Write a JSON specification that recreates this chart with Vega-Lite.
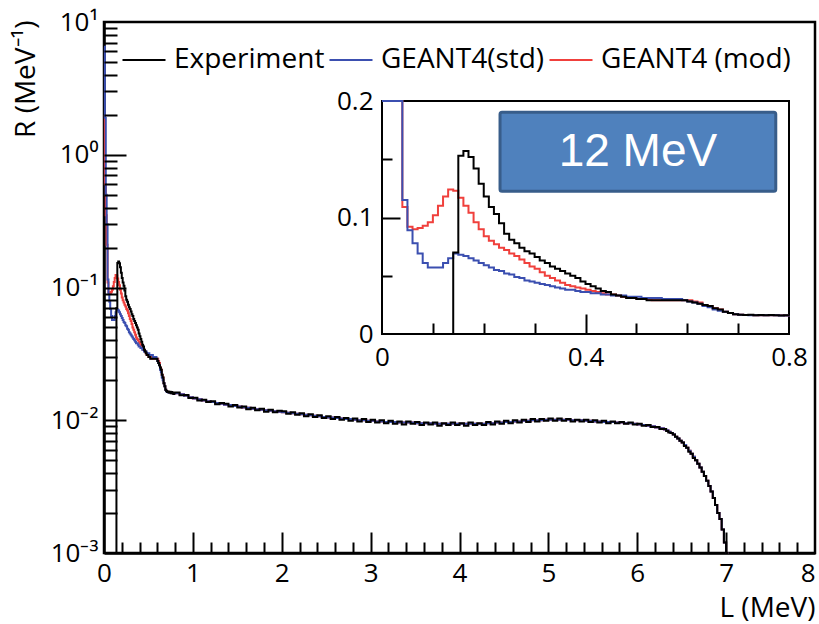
{
  "$schema": "https://vega.github.io/schema/vega-lite/v6.json",
  "width": 711,
  "height": 531,
  "autosize": {"type": "none"},
  "padding": {"left": 104, "top": 22, "right": 4, "bottom": 71},
  "background": "white",
  "config": {
    "view": {"stroke": "black", "strokeWidth": 2.5},
    "font": "Open Sans",
    "axis": {
      "labelFont": "Open Sans", "titleFont": "Open Sans", "labelColor": "black", "titleColor": "black",
      "tickColor": "black", "domainColor": "black", "grid": false, "titleFontWeight": "normal",
      "labelFontSize": 26, "titleFontSize": 28, "tickWidth": 2, "domainWidth": 2.5, "labelOverlap": false, "labelBound": false
    }
  },
  "data": {"values": [
    {"L":0.00,"exp":0,"std":6.5,"mod":2.0},
    {"L":0.01,"exp":0,"std":1.9,"mod":0.6},
    {"L":0.02,"exp":0,"std":0.5,"mod":0.35},
    {"L":0.03,"exp":0,"std":0.3,"mod":0.21},
    {"L":0.04,"exp":0,"std":0.115,"mod":0.109},
    {"L":0.05,"exp":0,"std":0.089,"mod":0.092},
    {"L":0.06,"exp":0,"std":0.078,"mod":0.090},
    {"L":0.07,"exp":0,"std":0.069,"mod":0.091},
    {"L":0.08,"exp":0,"std":0.061,"mod":0.093},
    {"L":0.09,"exp":0,"std":0.057,"mod":0.096},
    {"L":0.10,"exp":0,"std":0.057,"mod":0.102},
    {"L":0.11,"exp":0,"std":0.057,"mod":0.110},
    {"L":0.12,"exp":0,"std":0.061,"mod":0.118},
    {"L":0.13,"exp":0,"std":0.065,"mod":0.124},
    {"L":0.14,"exp":0.070,"std":0.069,"mod":0.123},
    {"L":0.15,"exp":0.153,"std":0.068,"mod":0.117},
    {"L":0.16,"exp":0.157,"std":0.067,"mod":0.110},
    {"L":0.17,"exp":0.152,"std":0.065,"mod":0.104},
    {"L":0.18,"exp":0.142,"std":0.063,"mod":0.096},
    {"L":0.19,"exp":0.129,"std":0.061,"mod":0.090},
    {"L":0.20,"exp":0.118,"std":0.059,"mod":0.084},
    {"L":0.21,"exp":0.109,"std":0.057,"mod":0.080},
    {"L":0.22,"exp":0.103,"std":0.055,"mod":0.077},
    {"L":0.23,"exp":0.095,"std":0.054,"mod":0.074},
    {"L":0.24,"exp":0.086,"std":0.052,"mod":0.072},
    {"L":0.25,"exp":0.081,"std":0.051,"mod":0.069},
    {"L":0.26,"exp":0.078,"std":0.049,"mod":0.067},
    {"L":0.27,"exp":0.074,"std":0.048,"mod":0.064},
    {"L":0.28,"exp":0.071,"std":0.046,"mod":0.061},
    {"L":0.29,"exp":0.069,"std":0.045,"mod":0.058},
    {"L":0.30,"exp":0.066,"std":0.044,"mod":0.056},
    {"L":0.31,"exp":0.063,"std":0.043,"mod":0.053},
    {"L":0.32,"exp":0.061,"std":0.042,"mod":0.050},
    {"L":0.33,"exp":0.058,"std":0.041,"mod":0.048},
    {"L":0.34,"exp":0.056,"std":0.040,"mod":0.046},
    {"L":0.35,"exp":0.054,"std":0.039,"mod":0.044},
    {"L":0.36,"exp":0.052,"std":0.038,"mod":0.042},
    {"L":0.37,"exp":0.050,"std":0.038,"mod":0.041},
    {"L":0.38,"exp":0.048,"std":0.037,"mod":0.040},
    {"L":0.39,"exp":0.045,"std":0.036,"mod":0.039},
    {"L":0.40,"exp":0.043,"std":0.036,"mod":0.038},
    {"L":0.41,"exp":0.041,"std":0.035,"mod":0.037},
    {"L":0.42,"exp":0.039,"std":0.035,"mod":0.036},
    {"L":0.43,"exp":0.037,"std":0.034,"mod":0.035},
    {"L":0.44,"exp":0.036,"std":0.034,"mod":0.034},
    {"L":0.45,"exp":0.034,"std":0.033,"mod":0.034},
    {"L":0.46,"exp":0.033,"std":0.033,"mod":0.033},
    {"L":0.47,"exp":0.032,"std":0.033,"mod":0.032},
    {"L":0.48,"exp":0.031,"std":0.032,"mod":0.031},
    {"L":0.49,"exp":0.031,"std":0.032,"mod":0.031},
    {"L":0.50,"exp":0.030,"std":0.032,"mod":0.030},
    {"L":0.51,"exp":0.030,"std":0.031,"mod":0.030},
    {"L":0.52,"exp":0.029,"std":0.031,"mod":0.030},
    {"L":0.53,"exp":0.029,"std":0.031,"mod":0.029},
    {"L":0.54,"exp":0.029,"std":0.031,"mod":0.029},
    {"L":0.55,"exp":0.029,"std":0.030,"mod":0.029},
    {"L":0.56,"exp":0.029,"std":0.030,"mod":0.029},
    {"L":0.57,"exp":0.029,"std":0.030,"mod":0.029},
    {"L":0.58,"exp":0.029,"std":0.030,"mod":0.029},
    {"L":0.59,"exp":0.029,"std":0.029,"mod":0.029},
    {"L":0.60,"exp":0.028,"std":0.028,"mod":0.029},
    {"L":0.61,"exp":0.027,"std":0.027,"mod":0.028},
    {"L":0.62,"exp":0.026,"std":0.026,"mod":0.027},
    {"L":0.63,"exp":0.025,"std":0.024,"mod":0.025},
    {"L":0.64,"exp":0.024,"std":0.023,"mod":0.024},
    {"L":0.65,"exp":0.022,"std":0.021,"mod":0.022},
    {"L":0.66,"exp":0.021,"std":0.020,"mod":0.021},
    {"L":0.67,"exp":0.019,"std":0.019,"mod":0.019},
    {"L":0.68,"exp":0.018,"std":0.018,"mod":0.018},
    {"L":0.69,"exp":0.017,"std":0.017,"mod":0.017},
    {"L":0.70,"exp":0.0166,"std":0.0165,"mod":0.0166},
    {"L":0.71,"exp":0.0163,"std":0.0163,"mod":0.0164},
    {"L":0.72,"exp":0.0165,"std":0.0162,"mod":0.0163},
    {"L":0.73,"exp":0.0162,"std":0.0162,"mod":0.0162},
    {"L":0.74,"exp":0.0164,"std":0.0161,"mod":0.0162},
    {"L":0.75,"exp":0.0160,"std":0.0161,"mod":0.0161},
    {"L":0.76,"exp":0.0163,"std":0.0160,"mod":0.0161},
    {"L":0.77,"exp":0.0161,"std":0.0160,"mod":0.0160},
    {"L":0.78,"exp":0.0158,"std":0.0159,"mod":0.0160},
    {"L":0.79,"exp":0.0161,"std":0.0159,"mod":0.0159},
    {"L":0.80,"exp":0.0162,"std":0.0160,"mod":0.0160},
    {"L":0.85,"exp":0.0154,"std":0.0157,"mod":0.0157},
    {"L":0.90,"exp":0.0155,"std":0.0153,"mod":0.0153},
    {"L":0.95,"exp":0.0147,"std":0.0149,"mod":0.0149},
    {"L":1.00,"exp":0.0148,"std":0.0146,"mod":0.0146},
    {"L":1.05,"exp":0.0141,"std":0.0144,"mod":0.0144},
    {"L":1.10,"exp":0.0143,"std":0.0141,"mod":0.0141},
    {"L":1.15,"exp":0.0137,"std":0.0139,"mod":0.0139},
    {"L":1.20,"exp":0.0139,"std":0.0137,"mod":0.0137},
    {"L":1.25,"exp":0.0132,"std":0.0135,"mod":0.0135},
    {"L":1.30,"exp":0.0135,"std":0.0133,"mod":0.0133},
    {"L":1.35,"exp":0.0133,"std":0.0131,"mod":0.0131},
    {"L":1.40,"exp":0.0127,"std":0.0130,"mod":0.0130},
    {"L":1.45,"exp":0.0130,"std":0.0128,"mod":0.0128},
    {"L":1.50,"exp":0.0125,"std":0.0127,"mod":0.0127},
    {"L":1.55,"exp":0.0127,"std":0.0125,"mod":0.0125},
    {"L":1.60,"exp":0.0121,"std":0.0124,"mod":0.0124},
    {"L":1.65,"exp":0.0124,"std":0.0122,"mod":0.0122},
    {"L":1.70,"exp":0.0119,"std":0.0121,"mod":0.0121},
    {"L":1.75,"exp":0.0122,"std":0.0120,"mod":0.0120},
    {"L":1.80,"exp":0.0116,"std":0.0119,"mod":0.0119},
    {"L":1.85,"exp":0.0120,"std":0.0118,"mod":0.0118},
    {"L":1.90,"exp":0.0115,"std":0.0117,"mod":0.0117},
    {"L":1.95,"exp":0.0118,"std":0.0116,"mod":0.0116},
    {"L":2.00,"exp":0.0117,"std":0.0115,"mod":0.0115},
    {"L":2.05,"exp":0.0112,"std":0.0114,"mod":0.0114},
    {"L":2.10,"exp":0.0115,"std":0.0113,"mod":0.0113},
    {"L":2.15,"exp":0.0110,"std":0.0112,"mod":0.0112},
    {"L":2.20,"exp":0.0113,"std":0.0111,"mod":0.0111},
    {"L":2.25,"exp":0.0107,"std":0.0110,"mod":0.0110},
    {"L":2.30,"exp":0.0111,"std":0.0109,"mod":0.0109},
    {"L":2.35,"exp":0.0106,"std":0.0108,"mod":0.0108},
    {"L":2.40,"exp":0.0109,"std":0.0107,"mod":0.0107},
    {"L":2.45,"exp":0.0104,"std":0.0106,"mod":0.0106},
    {"L":2.50,"exp":0.0107,"std":0.0105,"mod":0.0105},
    {"L":2.55,"exp":0.0102,"std":0.0105,"mod":0.0105},
    {"L":2.60,"exp":0.0106,"std":0.0104,"mod":0.0104},
    {"L":2.65,"exp":0.0101,"std":0.0103,"mod":0.0103},
    {"L":2.70,"exp":0.0104,"std":0.0102,"mod":0.0102},
    {"L":2.75,"exp":0.0099,"std":0.0102,"mod":0.0102},
    {"L":2.80,"exp":0.0103,"std":0.0101,"mod":0.0101},
    {"L":2.85,"exp":0.0098,"std":0.0100,"mod":0.0100},
    {"L":2.90,"exp":0.0102,"std":0.0100,"mod":0.0100},
    {"L":2.95,"exp":0.0097,"std":0.0099,"mod":0.0099},
    {"L":3.00,"exp":0.0101,"std":0.0099,"mod":0.0099},
    {"L":3.05,"exp":0.0096,"std":0.0098,"mod":0.0098},
    {"L":3.10,"exp":0.0100,"std":0.0098,"mod":0.0098},
    {"L":3.15,"exp":0.0095,"std":0.0097,"mod":0.0097},
    {"L":3.20,"exp":0.0099,"std":0.0097,"mod":0.0097},
    {"L":3.25,"exp":0.0094,"std":0.0097,"mod":0.0097},
    {"L":3.30,"exp":0.0098,"std":0.0096,"mod":0.0096},
    {"L":3.35,"exp":0.0093,"std":0.0096,"mod":0.0096},
    {"L":3.40,"exp":0.0098,"std":0.0096,"mod":0.0096},
    {"L":3.45,"exp":0.0094,"std":0.0096,"mod":0.0096},
    {"L":3.50,"exp":0.0097,"std":0.0095,"mod":0.0095},
    {"L":3.55,"exp":0.0092,"std":0.0095,"mod":0.0095},
    {"L":3.60,"exp":0.0096,"std":0.0095,"mod":0.0095},
    {"L":3.65,"exp":0.0093,"std":0.0095,"mod":0.0095},
    {"L":3.70,"exp":0.0096,"std":0.0094,"mod":0.0094},
    {"L":3.75,"exp":0.0091,"std":0.0094,"mod":0.0094},
    {"L":3.80,"exp":0.0095,"std":0.0094,"mod":0.0094},
    {"L":3.85,"exp":0.0092,"std":0.0094,"mod":0.0094},
    {"L":3.90,"exp":0.0096,"std":0.0094,"mod":0.0094},
    {"L":3.95,"exp":0.0092,"std":0.0094,"mod":0.0094},
    {"L":4.00,"exp":0.0095,"std":0.0094,"mod":0.0094},
    {"L":4.05,"exp":0.0091,"std":0.0094,"mod":0.0094},
    {"L":4.10,"exp":0.0096,"std":0.0094,"mod":0.0094},
    {"L":4.15,"exp":0.0092,"std":0.0094,"mod":0.0094},
    {"L":4.20,"exp":0.0095,"std":0.0094,"mod":0.0094},
    {"L":4.25,"exp":0.0092,"std":0.0094,"mod":0.0094},
    {"L":4.30,"exp":0.0097,"std":0.0095,"mod":0.0095},
    {"L":4.35,"exp":0.0093,"std":0.0095,"mod":0.0095},
    {"L":4.40,"exp":0.0098,"std":0.0096,"mod":0.0096},
    {"L":4.45,"exp":0.0094,"std":0.0096,"mod":0.0096},
    {"L":4.50,"exp":0.0099,"std":0.0097,"mod":0.0097},
    {"L":4.55,"exp":0.0095,"std":0.0097,"mod":0.0097},
    {"L":4.60,"exp":0.0100,"std":0.0098,"mod":0.0098},
    {"L":4.65,"exp":0.0096,"std":0.0098,"mod":0.0098},
    {"L":4.70,"exp":0.0101,"std":0.0099,"mod":0.0099},
    {"L":4.75,"exp":0.0097,"std":0.0099,"mod":0.0099},
    {"L":4.80,"exp":0.0102,"std":0.0100,"mod":0.0100},
    {"L":4.85,"exp":0.0098,"std":0.0100,"mod":0.0100},
    {"L":4.90,"exp":0.0102,"std":0.0100,"mod":0.0100},
    {"L":4.95,"exp":0.0099,"std":0.0101,"mod":0.0101},
    {"L":5.00,"exp":0.0103,"std":0.0101,"mod":0.0101},
    {"L":5.05,"exp":0.0099,"std":0.0101,"mod":0.0101},
    {"L":5.10,"exp":0.0103,"std":0.0101,"mod":0.0101},
    {"L":5.15,"exp":0.0099,"std":0.0101,"mod":0.0101},
    {"L":5.20,"exp":0.0102,"std":0.0101,"mod":0.0101},
    {"L":5.25,"exp":0.0098,"std":0.0100,"mod":0.0100},
    {"L":5.30,"exp":0.0101,"std":0.0100,"mod":0.0100},
    {"L":5.35,"exp":0.0098,"std":0.0100,"mod":0.0100},
    {"L":5.40,"exp":0.0101,"std":0.0099,"mod":0.0099},
    {"L":5.45,"exp":0.0097,"std":0.0099,"mod":0.0099},
    {"L":5.50,"exp":0.0100,"std":0.0098,"mod":0.0098},
    {"L":5.55,"exp":0.0096,"std":0.0098,"mod":0.0098},
    {"L":5.60,"exp":0.0099,"std":0.0097,"mod":0.0097},
    {"L":5.65,"exp":0.0095,"std":0.0097,"mod":0.0097},
    {"L":5.70,"exp":0.0098,"std":0.0097,"mod":0.0097},
    {"L":5.75,"exp":0.0095,"std":0.0096,"mod":0.0096},
    {"L":5.80,"exp":0.0097,"std":0.0096,"mod":0.0096},
    {"L":5.85,"exp":0.0094,"std":0.0095,"mod":0.0095},
    {"L":5.90,"exp":0.0096,"std":0.0095,"mod":0.0095},
    {"L":5.95,"exp":0.0093,"std":0.0094,"mod":0.0094},
    {"L":6.00,"exp":0.0094,"std":0.0093,"mod":0.0093},
    {"L":6.05,"exp":0.0091,"std":0.0092,"mod":0.0092},
    {"L":6.10,"exp":0.0092,"std":0.0091,"mod":0.0091},
    {"L":6.15,"exp":0.0089,"std":0.0090,"mod":0.0090},
    {"L":6.20,"exp":0.0089,"std":0.0088,"mod":0.0088},
    {"L":6.25,"exp":0.0086,"std":0.0087,"mod":0.0087},
    {"L":6.300,"exp":0.0086,"std":0.0085,"mod":0.0085},
    {"L":6.325,"exp":0.0083,"std":0.0084,"mod":0.0084},
    {"L":6.350,"exp":0.0081,"std":0.0082,"mod":0.0082},
    {"L":6.375,"exp":0.0080,"std":0.0080,"mod":0.0080},
    {"L":6.400,"exp":0.0078,"std":0.0078,"mod":0.0078},
    {"L":6.425,"exp":0.0075,"std":0.0075,"mod":0.0075},
    {"L":6.450,"exp":0.0073,"std":0.0073,"mod":0.0073},
    {"L":6.475,"exp":0.0070,"std":0.0070,"mod":0.0070},
    {"L":6.500,"exp":0.0068,"std":0.0068,"mod":0.0068},
    {"L":6.525,"exp":0.0064,"std":0.0065,"mod":0.0065},
    {"L":6.550,"exp":0.0062,"std":0.0062,"mod":0.0062},
    {"L":6.575,"exp":0.0058,"std":0.0059,"mod":0.0059},
    {"L":6.600,"exp":0.0056,"std":0.0056,"mod":0.0056},
    {"L":6.625,"exp":0.0052,"std":0.0053,"mod":0.0053},
    {"L":6.650,"exp":0.0050,"std":0.0050,"mod":0.0050},
    {"L":6.675,"exp":0.0047,"std":0.0047,"mod":0.0047},
    {"L":6.700,"exp":0.0044,"std":0.0044,"mod":0.0044},
    {"L":6.725,"exp":0.0041,"std":0.0041,"mod":0.0041},
    {"L":6.750,"exp":0.0038,"std":0.0038,"mod":0.0038},
    {"L":6.775,"exp":0.0035,"std":0.0035,"mod":0.0035},
    {"L":6.800,"exp":0.0032,"std":0.0032,"mod":0.0032},
    {"L":6.825,"exp":0.0029,"std":0.0029,"mod":0.0029},
    {"L":6.850,"exp":0.0026,"std":0.0026,"mod":0.0026},
    {"L":6.875,"exp":0.0023,"std":0.0023,"mod":0.0023},
    {"L":6.900,"exp":0.0020,"std":0.0020,"mod":0.0020},
    {"L":6.925,"exp":0.0018,"std":0.0018,"mod":0.0018},
    {"L":6.950,"exp":0.0015,"std":0.0015,"mod":0.0015},
    {"L":6.975,"exp":0.0012,"std":0.0012,"mod":0.0012},
    {"L":7.000,"exp":0.0009,"std":0.0009,"mod":0.0009},
    {"L":7.025,"exp":0,"std":0,"mod":0}
  ]},
  "layer": [
    {
      "layer": [
        {
          "mark": {"type": "line", "interpolate": "step-after", "strokeWidth": 2, "invalid": "show"},
          "encoding": {
            "x": {"field": "L", "type": "quantitative",
              "scale": {"domain": [0, 8], "nice": false, "zero": false},
              "axis": {"orient": "bottom", "values": [0,1,2,3,4,5,6,7,8], "format": "d", "ticks": false, "labelPadding": 7, "labelFlush": false,
                "labelAlign": {"condition": {"test": "datum.value >= 8", "value": "right"}, "value": "center"},
                "title": "L (MeV)", "titleAnchor": "end", "titleAlign": "right", "titleX": 711, "titleY": 63, "titleBaseline": "alphabetic"}},
            "y": {"field": "mod", "type": "quantitative",
              "scale": {"type": "log", "domain": [0.001, 10], "clamp": true, "nice": false},
              "axis": {"orient": "left", "values": [0.001, 0.01, 0.1, 1, 10], "ticks": false, "labelPadding": 6,
                "labelExpr": "datum.value >= 5 ? '10¹' : datum.value >= 0.5 ? '10⁰' : datum.value >= 0.05 ? '10⁻¹' : datum.value >= 0.005 ? '10⁻²' : '10⁻³'",
                "title": "R (MeV⁻¹)", "titleAnchor": "end", "titleAlign": "right", "titleAngle": -90, "titleX": -78, "titleY": -2, "titleBaseline": "middle"}},
            "color": {"datum": "GEANT4 (mod)", "type": "nominal",
              "scale": {"domain": ["Experiment", "GEANT4(std)", "GEANT4 (mod)"], "range": ["#000000", "#3b4fb0", "#f0403c"]},
              "legend": {"orient": "none", "legendX": 17, "legendY": 15, "direction": "horizontal", "title": null,
                "symbolType": "stroke", "symbolSize": 1850, "symbolStrokeWidth": 2, "labelFont": "Open Sans", "labelFontSize": 28,
                "labelColor": "black", "labelOffset": 7, "columnPadding": 0, "labelLimit": 0, "padding": 0}}
          }
        },
        {
          "mark": {"type": "line", "interpolate": "step-after", "strokeWidth": 2, "invalid": "show"},
          "encoding": {
            "x": {"field": "L", "type": "quantitative",
              "scale": {"domain": [0, 8], "nice": false, "zero": false},
              "axis": {"orient": "top", "offset": -531, "zindex": 1, "values": [1,2,3,4,5,6,7],
                "tickSize": 21, "labels": false, "domain": false, "title": null}},
            "y": {"field": "std", "type": "quantitative",
              "scale": {"type": "log", "domain": [0.001, 10], "clamp": true, "nice": false},
              "axis": {"orient": "right", "offset": -711, "zindex": 1, "values": [0.01, 0.1, 1],
                "tickSize": 22, "labels": false, "domain": false, "title": null}},
            "color": {"datum": "GEANT4(std)", "type": "nominal"}
          }
        },
        {
          "mark": {"type": "line", "interpolate": "step-after", "strokeWidth": 2, "invalid": "show"},
          "encoding": {
            "x": {"field": "L", "type": "quantitative", "scale": {"domain": [0, 8], "nice": false, "zero": false},
              "axis": {"orient": "top", "offset": -531, "zindex": 1, "values": [0.2,0.4,0.6,0.8,1.2,1.4,1.6,1.8,2.2,2.4,2.6,2.8,3.2,3.4,3.6,3.8,4.2,4.4,4.6,4.8,5.2,5.4,5.6,5.8,6.2,6.4,6.6,6.8,7.2,7.4,7.6,7.8],
                "tickSize": 11, "labels": false, "domain": false, "title": null}},
            "y": {"field": "exp", "type": "quantitative", "scale": {"type": "log", "domain": [0.001, 10], "clamp": true, "nice": false},
              "axis": {"orient": "right", "offset": -711, "zindex": 1, "values": [0.002,0.003,0.004,0.005,0.006,0.007,0.008,0.009,0.02,0.03,0.04,0.05,0.06,0.07,0.08,0.09,0.2,0.3,0.4,0.5,0.6,0.7,0.8,0.9,2,3,4,5,6,7,8,9],
                "tickSize": 13, "labels": false, "domain": false, "title": null}},
            "color": {"datum": "Experiment", "type": "nominal"}
          }
        }
      ],
      "resolve": {"axis": {"x": "independent", "y": "independent"}}
    },
    {
      "layer": [
        {
          "data": {"values": [{}]},
          "mark": {"type": "rect", "fill": "white", "stroke": "black", "strokeWidth": 2},
          "encoding": {
            "x": {"datum": 0, "type": "quantitative", "scale": {"domain": [0, 0.8], "range": [278, 685], "nice": false, "zero": false}, "axis": null},
            "x2": {"datum": 0.8},
            "y": {"datum": 0, "type": "quantitative", "scale": {"domain": [0, 0.2], "range": [312, 79], "nice": false, "clamp": true}, "axis": null},
            "y2": {"datum": 0.2}
          }
        },
        {
          "transform": [{"filter": "datum.L <= 0.8"}],
          "mark": {"type": "line", "interpolate": "step-after", "strokeWidth": 2},
          "encoding": {
            "x": {"field": "L", "type": "quantitative", "scale": {"domain": [0, 0.8], "range": [278, 685], "nice": false, "zero": false},
              "axis": {"orient": "bottom", "offset": -219, "values": [0, 0.4, 0.8], "format": "~g", "ticks": false, "labelPadding": 10, "labelFlush": false, "domain": false, "title": null}},
            "y": {"field": "mod", "type": "quantitative", "scale": {"domain": [0, 0.2], "range": [312, 79], "nice": false, "clamp": true},
              "axis": {"orient": "left", "offset": -278, "values": [0, 0.1, 0.2], "format": "~g", "ticks": false, "labelPadding": 9, "domain": false, "title": null}},
            "color": {"datum": "GEANT4 (mod)", "type": "nominal"}
          }
        },
        {
          "transform": [{"filter": "datum.L <= 0.8"}],
          "mark": {"type": "line", "interpolate": "step-after", "strokeWidth": 2},
          "encoding": {
            "x": {"field": "L", "type": "quantitative", "scale": {"domain": [0, 0.8], "range": [278, 685], "nice": false, "zero": false},
              "axis": {"orient": "top", "offset": -312, "zindex": 1, "values": [0.1, 0.2, 0.3, 0.5, 0.6, 0.7], "tickSize": 11, "labels": false, "domain": false, "title": null}},
            "y": {"field": "std", "type": "quantitative", "scale": {"domain": [0, 0.2], "range": [312, 79], "nice": false, "clamp": true},
              "axis": {"orient": "right", "offset": -433, "zindex": 1, "values": [0.05, 0.15], "tickSize": 10, "labels": false, "domain": false, "title": null}},
            "color": {"datum": "GEANT4(std)", "type": "nominal"}
          }
        },
        {
          "transform": [{"filter": "datum.L <= 0.8"}],
          "mark": {"type": "line", "interpolate": "step-after", "strokeWidth": 2},
          "encoding": {
            "x": {"field": "L", "type": "quantitative", "scale": {"domain": [0, 0.8], "range": [278, 685], "nice": false, "zero": false},
              "axis": {"orient": "top", "offset": -312, "zindex": 1, "values": [0.4], "tickSize": 20, "labels": false, "domain": false, "title": null}},
            "y": {"field": "exp", "type": "quantitative", "scale": {"domain": [0, 0.2], "range": [312, 79], "nice": false, "clamp": true},
              "axis": {"orient": "right", "offset": -433, "zindex": 1, "values": [0.1], "tickSize": 18, "labels": false, "domain": false, "title": null}},
            "color": {"datum": "Experiment", "type": "nominal"}
          }
        },
        {
          "data": {"values": [{}]},
          "mark": {"type": "rect", "fill": "#4f81bd", "stroke": "#385d8a", "strokeWidth": 3, "cornerRadius": 2},
          "encoding": {
            "x": {"datum": 0.232, "type": "quantitative", "axis": null},
            "x2": {"datum": 0.774},
            "y": {"datum": 0.1226, "type": "quantitative", "axis": null},
            "y2": {"datum": 0.1903}
          }
        },
        {
          "data": {"values": [{}]},
          "mark": {"type": "text", "text": "12 MeV", "font": "Liberation Sans", "fontSize": 46, "color": "white", "align": "center", "baseline": "middle"},
          "encoding": {
            "x": {"datum": 0.503, "type": "quantitative", "axis": null},
            "y": {"datum": 0.1565, "type": "quantitative", "axis": null}
          }
        }
      ],
      "resolve": {"axis": {"x": "independent", "y": "independent"}}
    }
  ],
  "resolve": {"scale": {"x": "independent", "y": "independent"}}
}
